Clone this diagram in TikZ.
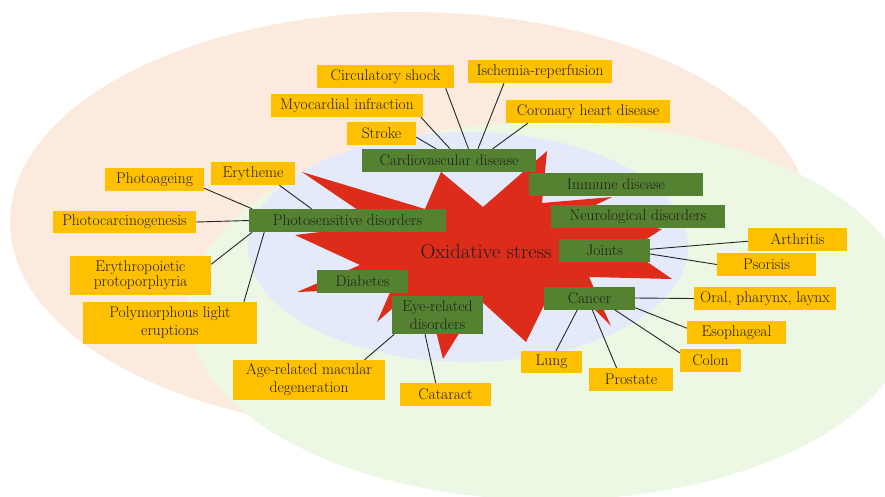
\documentclass[tikz,border=0pt]{standalone}
\usepackage{amsmath}
\usepackage{fontspec}
\usepackage{tikz}
\definecolor{peach}{RGB}{252,234,222}
\definecolor{palegreen}{RGB}{237,248,228}
\definecolor{paleblue}{RGB}{228,234,249}
\definecolor{starred}{RGB}{221,44,26}
\definecolor{boxyellow}{RGB}{255,192,0}
\definecolor{boxgreen}{RGB}{84,130,48}

\begin{document}
\begin{tikzpicture}[x=1pt,y=-1pt,
		lbl/.style={inner sep=0pt,minimum height=23pt,align=center,text=black!88,
			font=\fontsize{15.5}{18}\selectfont},
		ybox/.style={lbl,fill=boxyellow},
		gbox/.style={lbl,fill=boxgreen}]
	\useasboundingbox (0,0) rectangle (885,496);
	% background
	\fill[peach] (410,222) ellipse [x radius=400pt,y radius=210pt];
	\fill[palegreen] (550,311) ellipse [x radius=362pt,y radius=189pt];
	\fill[paleblue] (468,247) ellipse [x radius=220pt,y radius=115pt];
	% the star
	\fill[starred] (302,172) -- (425,209) -- (441,172) -- (483,207) -- (547,151)
		-- (542,203) -- (612,197) -- (575,215) -- (662,229) -- (630,250)
		-- (672,279) -- (589,277) -- (611,326) -- (585,300) -- (550,293)
		-- (526,342) -- (480,300) -- (443,359) -- (428,300) -- (402,300)
		-- (377,322) -- (392,288) -- (297,292) -- (360,265) -- (295,235)
		-- (380,225) -- cycle;
	\node[text=black!88,font=\fontsize{20.5}{24}\selectfont] (ox) at (486,251) {Oxidative stress};
	% main groups
	\node[gbox,minimum width=174pt] (cardio) at (449,160.5) {Cardiovascular disease};
	\node[gbox,minimum width=174pt] (immune) at (616,184.5) {Immune disease};
	\node[gbox,minimum width=174pt] (neuro) at (638,216.5) {Neurological disorders};
	\node[gbox,minimum width=197pt] (photo) at (347.5,220.5) {Photosensitive disorders};
	\node[gbox,minimum width=91pt] (joints) at (604.5,250) {Joints};
	\node[gbox,minimum width=91pt] (diab) at (362.5,281.5) {Diabetes};
	\node[gbox,minimum width=91pt,minimum height=38pt] (eye) at (437.5,315) {Eye-related\\disorders};
	\node[gbox,minimum width=91pt] (cancer) at (589.5,298) {Cancer};
	% cardiovascular
	\node[ybox,minimum width=137pt] (circ) at (385.5,76.5) {Circulatory shock};
	\node[ybox,minimum width=144pt] (isch) at (540,71.5) {Ischemia-reperfusion};
	\node[ybox,minimum width=152pt] (myo) at (347,105.5) {Myocardial infraction};
	\node[ybox,minimum width=164pt] (coro) at (588,111.5) {Coronary heart disease};
	\node[ybox,minimum width=69pt] (stroke) at (381.5,133.5) {Stroke};
	% skin
	\node[ybox,minimum width=99pt] (ageing) at (154.5,179.5) {Photoageing};
	\node[ybox,minimum width=84pt] (eryth) at (253,173.5) {Erytheme};
	\node[ybox,minimum width=143pt,minimum height=22pt] (carc) at (124.5,222) {Photocarcinogenesis};
	\node[ybox,minimum width=141pt,minimum height=39pt,font=\fontsize{15.5}{15}\selectfont] (epp) at (140.5,275.5) {Erythropoietic\\protoporphyria};
	\node[ybox,minimum width=174pt,minimum height=42pt] (poly) at (170,323) {Polymorphous light\\eruptions};
	% eyes
	\node[ybox,minimum width=152pt,minimum height=40pt] (amd) at (309,380) {Age-related macular\\degeneration};
	\node[ybox,minimum width=91pt] (cata) at (445.5,394.5) {Cataract};
	% cancer
	\node[ybox,minimum width=61pt,minimum height=22pt] (lung) at (551.5,362) {Lung};
	\node[ybox,minimum width=84pt] (prost) at (631,379.5) {Prostate};
	\node[ybox,minimum width=61pt] (colon) at (710.5,360.5) {Colon};
	\node[ybox,minimum width=99pt] (esoph) at (736.5,332.5) {Esophageal};
	\node[ybox,minimum width=142pt] (oral) at (765,298.5) {Oral, pharynx, laynx};
	% joints
	\node[ybox,minimum width=99pt] (arth) at (797.5,239.5) {Arthritis};
	\node[ybox,minimum width=99pt] (psor) at (766.5,264.5) {Psorisis};
	\path[line width=0.9pt,black!85]
	(cardio.138) edge (stroke.-6)
	(cardio.85) edge (myo.-9)
	(cardio.31) edge (circ.-11)
	(cardio.22) edge (isch.198)
	(cardio.15) edge (coro.191)
	(photo.173) edge (ageing.-10)
	(photo.162) edge (eryth.-24)
	(photo.180) edge (carc.0)
	(photo.187) edge (epp.9)
	(photo.188) edge (poly.16)
	(eye.204) edge (amd.20)
	(eye.237) edge (cata.130)
	(cancer.224) edge (lung.68)
	(cancer.-77) edge (prost.141)
	(cancer.-25) edge (colon.166)
	(cancer.-12) edge (esoph.175)
	(cancer.0) edge (oral.180)
	(joints.1) edge (arth.182)
	(joints.-5) edge (psor.180);
\end{tikzpicture}
\end{document}
